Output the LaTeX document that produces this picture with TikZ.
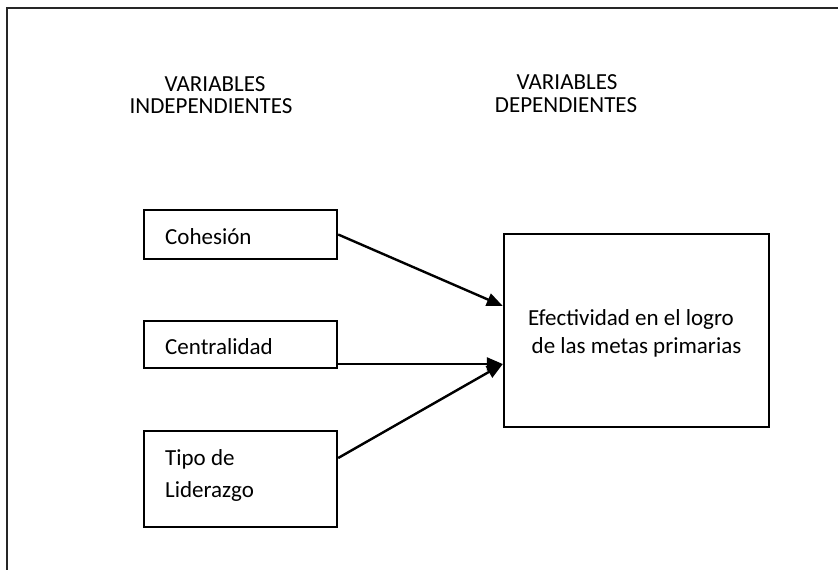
\documentclass[tikz,border=0pt]{standalone}
\usepackage{fontspec}
\setmainfont{Carlito}
\usetikzlibrary{arrows.meta}
\tikzset{
  box/.style={draw=black, line width=2.4pt, rectangle, inner sep=0pt},
  txt/.style={inner sep=0pt, font=\fontsize{23}{25}\selectfont},
  conn/.style={line width=2.4pt, -{Triangle[length=16pt,width=13pt]}},
  frame/.style={line width=1.8pt, draw=black!85}
}
\begin{document}
\begin{tikzpicture}[x=1pt,y=-1pt]
\useasboundingbox (0,0) rectangle (838,570);
\coordinate (fr1) at (838,8);
\coordinate (fr2) at (7,8);
\coordinate (fr3) at (7,570);
\draw[frame] (fr1) -- (fr2) -- (fr3);

% headers
\node[txt, anchor=base] (h1a) at (215,91) {VARIABLES};
\node[txt, anchor=base] (h1b) at (211,113) {INDEPENDIENTES};
\node[txt, anchor=base] (h2a) at (567,89) {VARIABLES};
\node[txt, anchor=base] (h2b) at (566,112) {DEPENDIENTES};

% boxes
\node[box, minimum width=193, minimum height=49] (coh) at (240.5,234.5) {};
\node[box, minimum width=193, minimum height=47] (cen) at (240.5,344.5) {};
\node[box, minimum width=193, minimum height=96] (tip) at (240.5,479) {};
\node[box, minimum width=265, minimum height=193] (eff) at (636.5,330.5) {};

% box texts
\node[txt, anchor=base west] (cohT) at (165,244) {Cohesión};
\node[txt, anchor=base west] (cenT) at (165,354) {Centralidad};
\node[txt, anchor=base west] (tipT1) at (165,465) {Tipo de};
\node[txt, anchor=base west] (tipT2) at (165,497) {Liderazgo};
\node[txt, anchor=base] (effT1) at (631,325) {Efectividad en el logro};
\node[txt, anchor=base] (effT2) at (636.5,353) {de las metas primarias};

% connectors
\draw[conn] (coh.east) -- ([yshift=24.5pt]eff.west);
\draw[conn] (cen.east |- 0,364) -- ([yshift=-33.5pt]eff.west);
\draw[conn] ([yshift=21pt]tip.east) -- ([yshift=-33.5pt]eff.west);
\end{tikzpicture}
\end{document}
